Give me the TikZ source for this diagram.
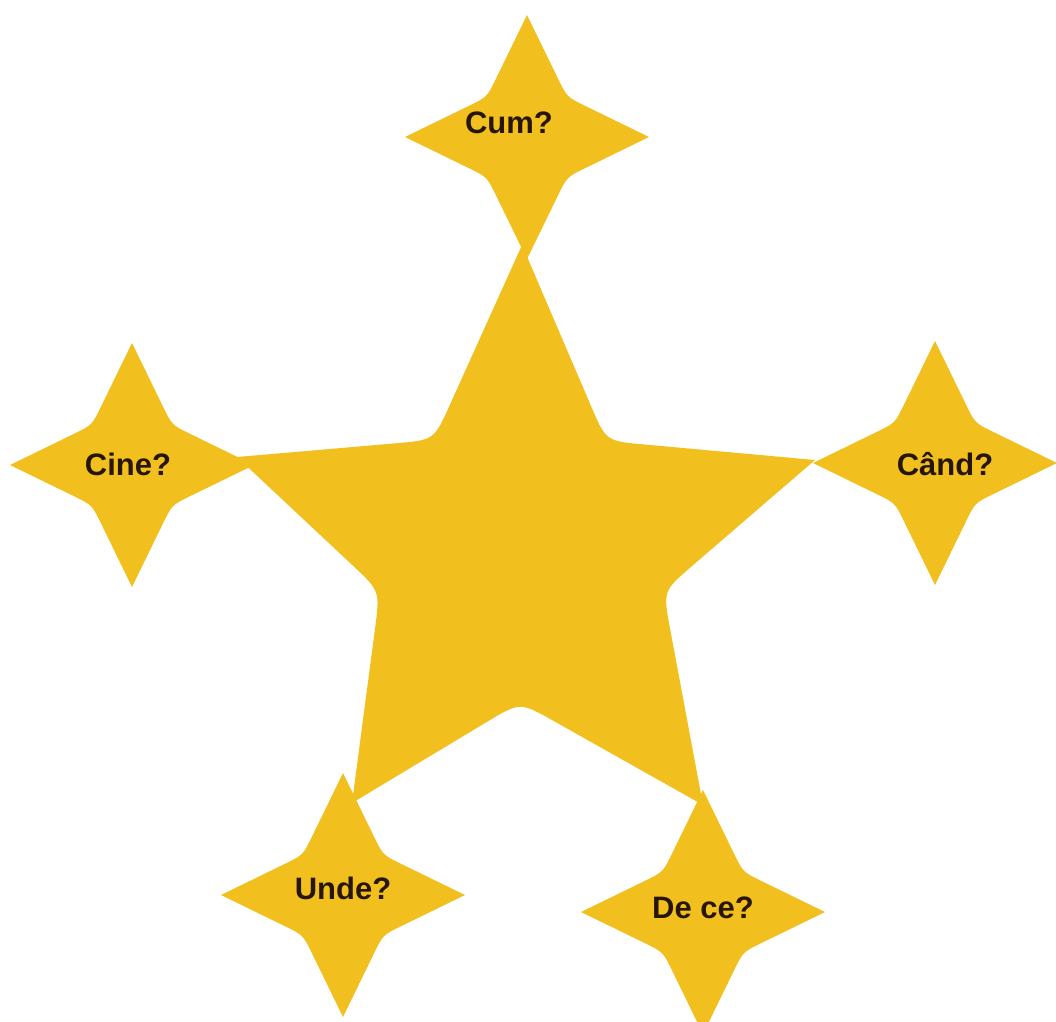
\documentclass[tikz,border=0pt]{standalone}
\usepackage{fontspec}
\setmainfont{Liberation Sans}
\usetikzlibrary{calc}
\definecolor{gold}{RGB}{242,192,30}
\definecolor{ink}{RGB}{40,22,5}
\tikzset{
  starfill/.style={fill=gold},
  lbl/.style={font=\bfseries\fontsize{31}{31}\selectfont, text=ink, inner sep=0pt}
}
\newcommand\fourpoint[1]{%
  \begin{scope}[shift={(#1)}]
    \fill[starfill] (0,-122) -- (31.2,-58) .. controls (40,-40) .. (58,-31.2) -- (122,0)
      -- (58,31.2) .. controls (40,40) .. (31.2,58) -- (0,122)
      -- (-31.2,58) .. controls (-40,40) .. (-58,31.2) -- (-122,0)
      -- (-58,-31.2) .. controls (-40,-40) .. (-31.2,-58) -- cycle;
  \end{scope}}
\begin{document}
\begin{tikzpicture}[x=1pt,y=-1pt]
\useasboundingbox (0,0) rectangle (1056,1021);
\fill[white] (0,0) rectangle (1056,1021);
% big star
\coordinate (O1) at (522,245);
\coordinate (I1) at (606,441);
\coordinate (O2) at (815,460);
\coordinate (I2) at (663,591);
\coordinate (O3) at (703,805);
\coordinate (I3) at (520,702);
\coordinate (O4) at (352,803);
\coordinate (I4) at (380,591);
\coordinate (O5) at (237,457);
\coordinate (I5) at (434,440);
\fill[starfill] (O1) -- ($(I1)!38pt!(O1)$) .. controls (I1) .. ($(I1)!38pt!(O2)$)
  -- (O2) -- ($(I2)!38pt!(O2)$) .. controls (I2) .. ($(I2)!38pt!(O3)$)
  -- (O3) -- ($(I3)!38pt!(O3)$) .. controls (I3) .. ($(I3)!38pt!(O4)$)
  -- (O4) -- ($(I4)!38pt!(O4)$) .. controls (I4) .. ($(I4)!38pt!(O5)$)
  -- (O5) -- ($(I5)!38pt!(O5)$) .. controls (I5) .. ($(I5)!38pt!(O1)$) -- cycle;
% four-pointed stars
\fourpoint{527,137}
\fourpoint{132,465}
\fourpoint{935,463}
\fourpoint{343,895}
\fourpoint{703,912}
% labels
\node[lbl] (cum) at (509,123) {Cum?};
\node[lbl] (cine) at (128,464) {Cine?};
\node[lbl] (cand) at (945,464) {Când?};
\node[lbl] (unde) at (343,888) {Unde?};
\node[lbl] (dece) at (703,908) {De ce?};
\end{tikzpicture}
\end{document}
